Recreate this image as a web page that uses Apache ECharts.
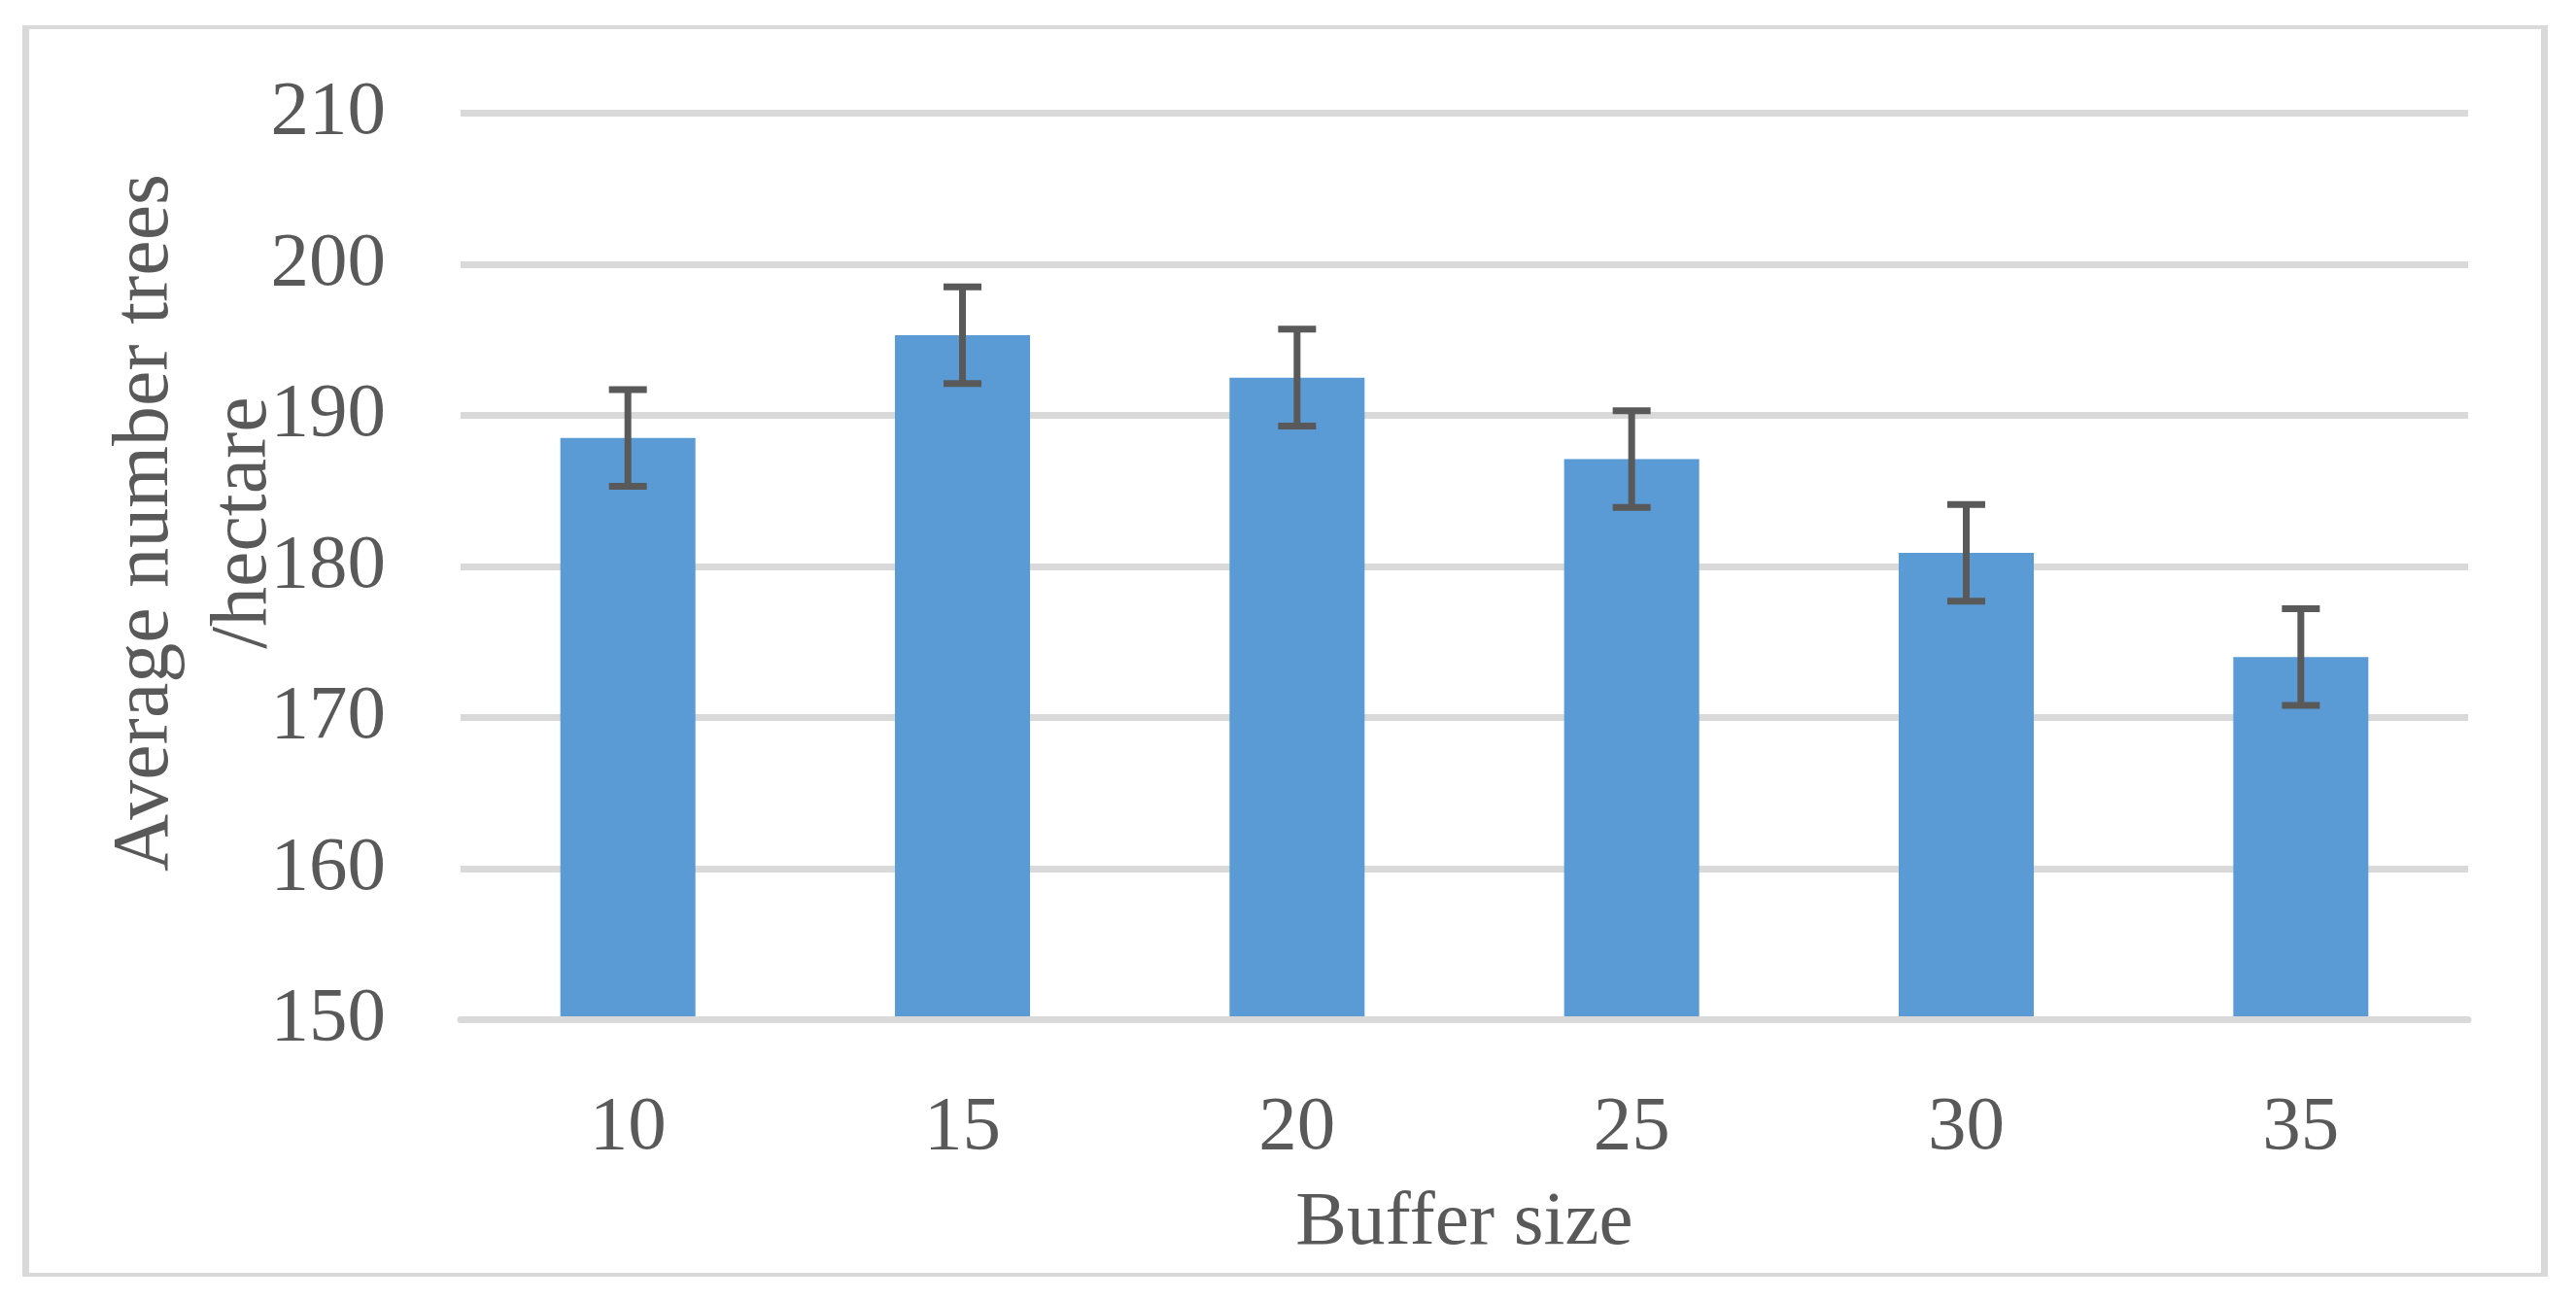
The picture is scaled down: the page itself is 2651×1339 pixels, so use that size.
<!DOCTYPE html>
<html>
<head>
<meta charset="utf-8">
<script src="https://cdn.jsdelivr.net/npm/echarts@6/dist/echarts.min.js"></script>
<style>
html,body{margin:0;padding:0;background:#fff;}
#chart{width:2651px;height:1339px;}
</style>
</head>
<body>
<div id="chart"></div>
<script>
const categories = ['10', '15', '20', '25', '30', '35'];
const values = [188.5, 195.3, 192.5, 187.1, 180.9, 174.0];
const errors = [3.2, 3.2, 3.2, 3.2, 3.2, 3.2];
const yTicks = { min: 150, max: 210, interval: 10 };
const xTitle = 'Buffer size';
const yTitle = 'Average number trees\n/hectare';

const FONT = 'Liberation Serif';
const TXT = '#595959';
const GRID = '#d9d9d9';

const chart = echarts.init(document.getElementById('chart'), null, { renderer: 'canvas' });

const errData = categories.map((c, i) => [i, values[i] - errors[i], values[i] + errors[i]]);

chart.setOption({
  animation: false,
  backgroundColor: '#ffffff',
  grid: { left: 474, right: 111, top: 116.5, bottom: 289.5, containLabel: false },
  xAxis: {
    type: 'category',
    data: categories,
    z: 5,
    axisLine: { show: true, lineStyle: { color: GRID, width: 7 } },
    axisTick: { show: false },
    axisLabel: { color: TXT, fontFamily: FONT, fontSize: 79, margin: 72 },
    splitLine: { show: false },
    name: xTitle,
    nameLocation: 'middle',
    nameGap: 170,
    nameTextStyle: { color: TXT, fontFamily: FONT, fontSize: 79 }
  },
  yAxis: {
    type: 'value',
    min: yTicks.min,
    max: yTicks.max,
    interval: yTicks.interval,
    axisLine: { show: false },
    axisTick: { show: false },
    axisLabel: { color: TXT, fontFamily: FONT, fontSize: 79, margin: 77 },
    splitLine: { show: true, lineStyle: { color: GRID, width: 7 } }
  },
  graphic: [
    { type: 'rect', shape: { x: 23, y: 26, width: 7, height: 1288 }, style: { fill: GRID }, silent: true },
    { type: 'rect', shape: { x: 2615, y: 26, width: 7, height: 1288 }, style: { fill: GRID }, silent: true },
    { type: 'rect', shape: { x: 23, y: 26, width: 2599, height: 4 }, style: { fill: GRID }, silent: true },
    { type: 'rect', shape: { x: 23, y: 1310, width: 2599, height: 4 }, style: { fill: GRID }, silent: true },
    {
      type: 'text',
      x: 201, y: 538,
      rotation: Math.PI / 2,
      style: {
        text: yTitle,
        fill: TXT,
        font: '82px "' + FONT + '"',
        fontFamily: FONT,
        fontSize: 82,
        lineHeight: 101,
        align: 'center',
        verticalAlign: 'middle'
      }
    }
  ],
  series: [
    {
      type: 'bar',
      data: values,
      barWidth: 139,
      itemStyle: { color: '#5b9bd5' },
      z: 2
    },
    {
      type: 'custom',
      z: 4,
      data: errData,
      renderItem: function (params, api) {
        const x = api.value(0);
        const lo = api.coord([x, api.value(1)]);
        const hi = api.coord([x, api.value(2)]);
        const half = 19.5;
        const st = { stroke: '#595959', lineWidth: 7, fill: null };
        return {
          type: 'group',
          children: [
            { type: 'line', shape: { x1: hi[0], y1: hi[1], x2: lo[0], y2: lo[1] }, style: st },
            { type: 'line', shape: { x1: hi[0] - half, y1: hi[1], x2: hi[0] + half, y2: hi[1] }, style: st },
            { type: 'line', shape: { x1: lo[0] - half, y1: lo[1], x2: lo[0] + half, y2: lo[1] }, style: st }
          ]
        };
      }
    }
  ]
});
</script>
</body>
</html>
